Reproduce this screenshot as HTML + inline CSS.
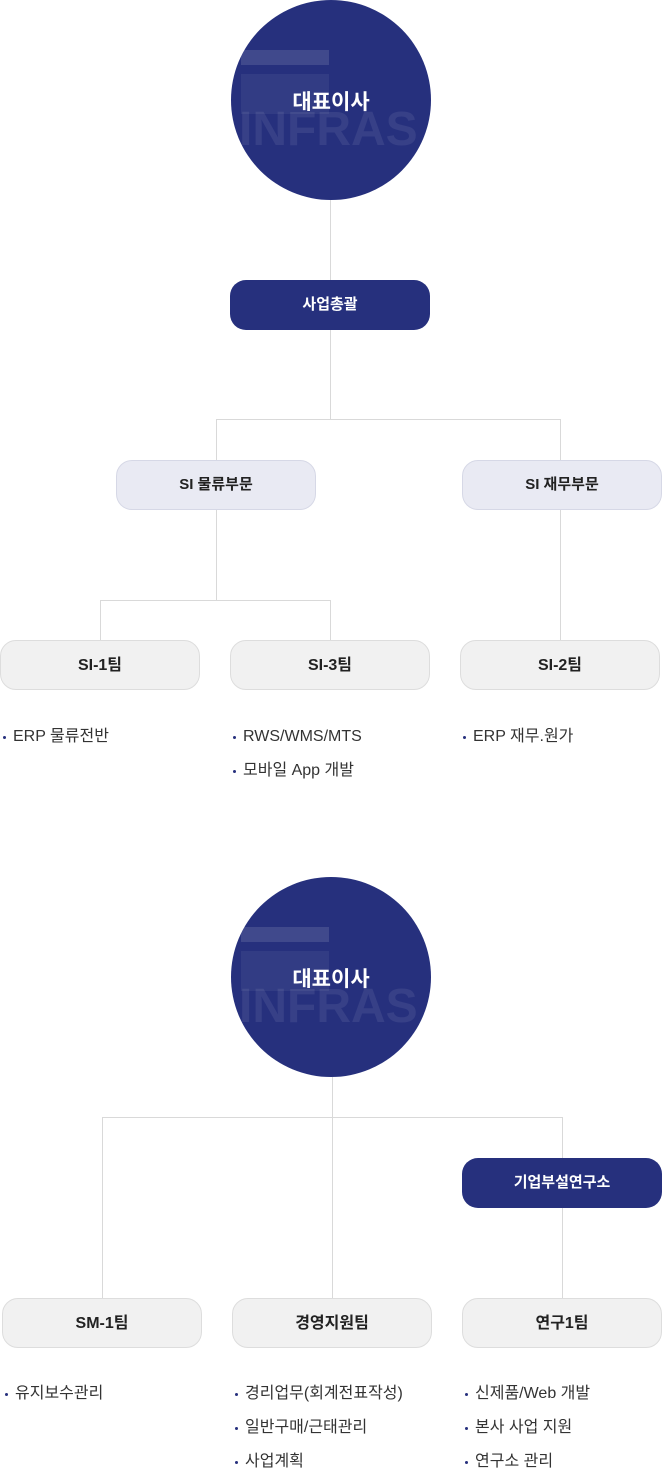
<!DOCTYPE html>
<html><head><meta charset="utf-8"><style>
body{margin:0;width:662px;height:1475px;background:#fff;position:relative;font-family:"Liberation Sans","Noto Sans CJK KR",sans-serif;overflow:hidden}
.l{position:absolute;background:#d9d9d9}
.c{position:absolute;width:200px;height:200px;border-radius:50%;background:#26307d;overflow:hidden}
.c .t{position:absolute;left:0;right:0;top:89px;line-height:28px;text-align:center;color:#fff;font-size:21px;font-weight:bold}
.c .w{position:absolute;left:8px;top:108px;line-height:44px;font-size:48px;font-weight:bold;color:rgba(255,255,255,0.08);letter-spacing:0px}
.c .r1{position:absolute;left:10px;top:50px;width:88px;height:15px;background:rgba(255,255,255,0.12)}
.c .r2{position:absolute;left:10px;top:74px;width:88px;height:40px;background:rgba(255,255,255,0.06)}
.b{position:absolute;width:200px;height:50px;border-radius:16px;box-sizing:border-box;text-align:center;line-height:50px;font-size:16px;font-weight:bold;color:#222}
.d{background:#26307d;color:#fff;font-size:15px}
.m{background:#e9eaf3;border:1px solid #d6d8e6;font-size:15px;line-height:48px}
.g{background:#f1f1f1;border:1px solid #ddd;line-height:50px}
.li{position:absolute;font-size:16px;line-height:20px;height:20px;color:#333;white-space:nowrap}
.li:before{content:"";position:absolute;left:-10px;top:9px;width:3px;height:3px;border-radius:50%;background:#26307d}
</style></head><body>
<div class="l" style="left:330px;top:200px;width:1px;height:80px"></div>
<div class="l" style="left:330px;top:330px;width:1px;height:89px"></div>
<div class="l" style="left:216px;top:419px;width:345px;height:1px"></div>
<div class="l" style="left:216px;top:419px;width:1px;height:41px"></div>
<div class="l" style="left:560px;top:419px;width:1px;height:41px"></div>
<div class="l" style="left:216px;top:510px;width:1px;height:90px"></div>
<div class="l" style="left:100px;top:600px;width:231px;height:1px"></div>
<div class="l" style="left:100px;top:600px;width:1px;height:40px"></div>
<div class="l" style="left:330px;top:600px;width:1px;height:40px"></div>
<div class="l" style="left:560px;top:510px;width:1px;height:130px"></div>

<div class="c" style="left:231px;top:0"><div class="r1"></div><div class="r2"></div><div class="w">INFRAS</div><div class="t">대표이사</div></div>
<div class="b d" style="left:230px;top:280px">사업총괄</div>
<div class="b m" style="left:116px;top:460px">SI 물류부문</div>
<div class="b m" style="left:462px;top:460px">SI 재무부문</div>
<div class="b g" style="left:0;top:640px">SI-1팀</div>
<div class="b g" style="left:230px;top:640px">SI-3팀</div>
<div class="b g" style="left:460px;top:640px">SI-2팀</div>
<div class="li" style="left:13px;top:727px">ERP 물류전반</div>
<div class="li" style="left:243px;top:727px">RWS/WMS/MTS</div>
<div class="li" style="left:243px;top:761px">모바일 App 개발</div>
<div class="li" style="left:473px;top:727px">ERP 재무.원가</div>

<div class="l" style="left:332px;top:1077px;width:1px;height:221px"></div>
<div class="l" style="left:102px;top:1117px;width:461px;height:1px"></div>
<div class="l" style="left:102px;top:1117px;width:1px;height:181px"></div>
<div class="l" style="left:562px;top:1117px;width:1px;height:41px"></div>
<div class="l" style="left:562px;top:1208px;width:1px;height:90px"></div>
<div class="c" style="left:231px;top:877px"><div class="r1"></div><div class="r2"></div><div class="w">INFRAS</div><div class="t">대표이사</div></div>
<div class="b d" style="left:462px;top:1158px">기업부설연구소</div>
<div class="b g" style="left:2px;top:1298px">SM-1팀</div>
<div class="b g" style="left:232px;top:1298px">경영지원팀</div>
<div class="b g" style="left:462px;top:1298px">연구1팀</div>
<div class="li" style="left:15px;top:1384px">유지보수관리</div>
<div class="li" style="left:245px;top:1384px">경리업무(회계전표작성)</div>
<div class="li" style="left:245px;top:1418px">일반구매/근태관리</div>
<div class="li" style="left:245px;top:1452px">사업계획</div>
<div class="li" style="left:475px;top:1384px">신제품/Web 개발</div>
<div class="li" style="left:475px;top:1418px">본사 사업 지원</div>
<div class="li" style="left:475px;top:1452px">연구소 관리</div>
</body></html>
